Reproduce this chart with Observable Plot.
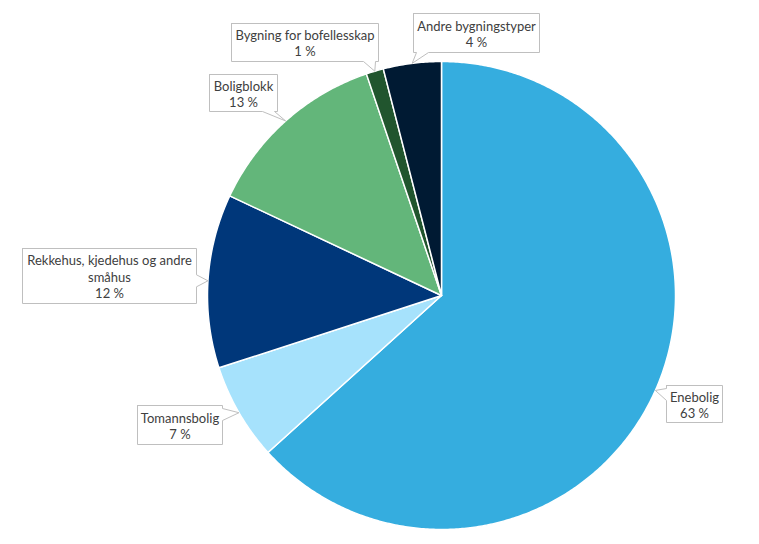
<!DOCTYPE html>
<html>
<head>
<meta charset="utf-8">
<script src="https://cdn.jsdelivr.net/npm/d3@7"></script>
<script src="https://cdn.jsdelivr.net/npm/@observablehq/plot@0.6"></script>
<style>
  html, body { margin: 0; padding: 0; background: #ffffff; }
  #chart svg { display: block; }
</style>
</head>
<body>
<div id="chart"></div>
<script>
// ---- data ----
const categories = ["Enebolig", "Tomannsbolig", "Rekkehus, kjedehus og andre småhus", "Boligblokk", "Bygning for bofellesskap", "Andre bygningstyper"];
const shares = [63.3, 6.7, 12.0, 12.8, 1.2, 4.0];
const labelLines = [["Enebolig"], ["Tomannsbolig"], ["Rekkehus, kjedehus og andre", "småhus"], ["Boligblokk"], ["Bygning for bofellesskap"], ["Andre bygningstyper"]];

// ---- style / layout ----
const colors = ["#35ADDF", "#A6E2FC", "#00377A", "#63B67A", "#21552E", "#001A33"];
const labelBoxes = [[666, 385, 722, 422], [137, 405, 222, 444], [22, 248, 196, 303], [209, 74, 277, 111], [231, 23, 378, 61], [413, 13, 539, 52]];
const W = 759, H = 544, cx = 441, cy = 295, R = 234;

// slices as polygons in unit-circle coordinates
const total = d3.sum(shares);
const slicePts = [];
const mids = [];
let cum = 0;
categories.forEach((c, i) => {
  const a0 = cum / total * 2 * Math.PI;
  cum += shares[i];
  const a1 = cum / total * 2 * Math.PI;
  mids.push((a0 + a1) / 2);
  slicePts.push({cat: c, x: 0, y: 0});
  const n = Math.max(2, Math.ceil((a1 - a0) / (Math.PI / 360)));
  for (let k = 0; k <= n; k++) {
    const t = a0 + (a1 - a0) * k / n;
    slicePts.push({cat: c, x: Math.sin(t), y: Math.cos(t)});
  }
  slicePts.push({cat: c, x: 0, y: 0});
});

// callout polygons (pixel layout -> unit coords)
const toU = ([px, py]) => ({x: (px - cx) / R, y: (cy - py) / R});
const clamp = (v, lo, hi) => Math.max(lo, Math.min(hi, v));
const calloutPts = [];
const textData = [];
categories.forEach((c, i) => {
  const [x0, y0, x1, y1] = labelBoxes[i];
  const T = [cx + R * Math.sin(mids[i]), cy - R * Math.cos(mids[i])];
  const w = 12;
  let pts;
  if (T[1] > y1) {
    const s = clamp(T[0] - w / 2, x0 + 3, x1 - 3 - w);
    pts = [[x0, y0], [x1, y0], [x1, y1], [s + w, y1], T, [s, y1], [x0, y1]];
  } else if (T[1] < y0) {
    const s = clamp(T[0] - w / 2, x0 + 3, x1 - 3 - w);
    pts = [[x0, y0], [s, y0], T, [s + w, y0], [x1, y0], [x1, y1], [x0, y1]];
  } else if (T[0] > x1) {
    const s = clamp(T[1] - w / 2, y0 + 3, y1 - 3 - w);
    pts = [[x0, y0], [x1, y0], [x1, s], T, [x1, s + w], [x1, y1], [x0, y1]];
  } else {
    const s = clamp(T[1] - w / 2, y0 + 3, y1 - 3 - w);
    pts = [[x0, y0], [x1, y0], [x1, y1], [x0, y1], [x0, s + w], T, [x0, s]];
  }
  pts.push([x0, y0]);
  pts.forEach(p => calloutPts.push({cat: c, ...toU(p)}));
  const ctr = toU([(x0 + x1) / 2, (y0 + y1) / 2 + 0.5]);
  textData.push({cat: c, x: ctr.x, y: ctr.y, text: [...labelLines[i], Math.round(shares[i]) + " %"].join("\n")});
});

const chart = Plot.plot({
  width: W,
  height: H,
  margin: 0,
  style: {fontFamily: "Lato, 'Noto Sans', sans-serif", background: "#ffffff"},
  x: {domain: [-1, 1], range: [cx - R, cx + R], axis: null},
  y: {domain: [-1, 1], range: [cy + R, cy - R], axis: null},
  color: {domain: categories, range: colors},
  marks: [
    Plot.line(slicePts, {x: "x", y: "y", z: "cat", fill: "cat", stroke: "#ffffff", strokeWidth: 1.5, strokeLinejoin: "round", curve: "linear"}),
    Plot.line(calloutPts, {x: "x", y: "y", z: "cat", fill: "#ffffff", stroke: "#BFBFBF", strokeWidth: 1, curve: "linear"}),
    Plot.text(textData, {x: "x", y: "y", text: "text", fill: "#404040", fontSize: 13, lineHeight: 1.25, lineAnchor: "middle", textAnchor: "middle"})
  ]
});
document.getElementById("chart").appendChild(chart);
</script>
</body>
</html>
